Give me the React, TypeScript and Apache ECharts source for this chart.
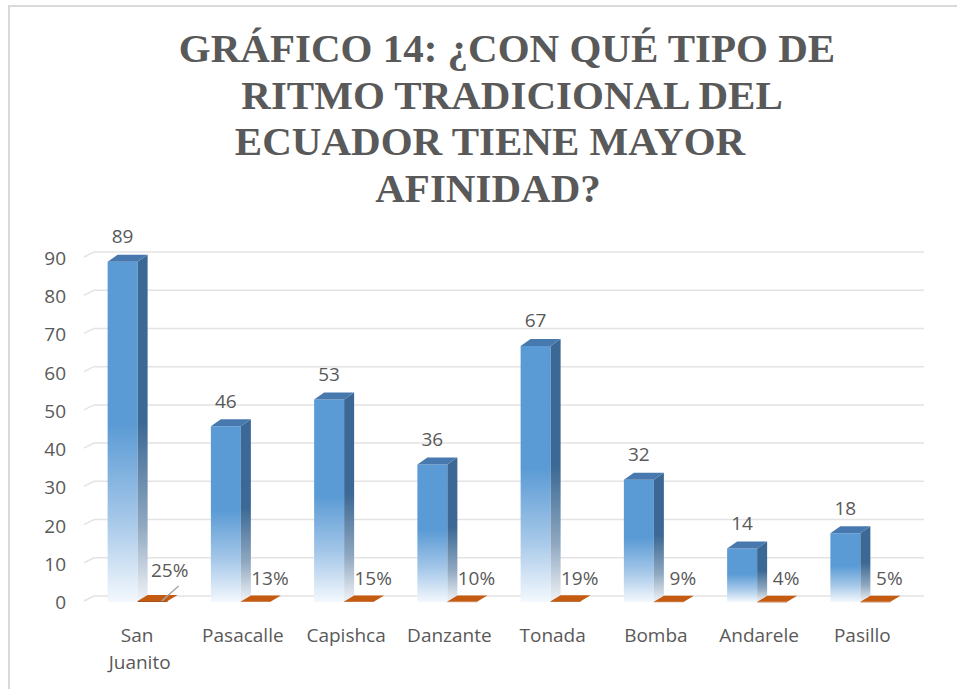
import React, { useEffect, useRef } from 'react';
import * as echarts from 'echarts';

const categories = ['San Juanito', 'Pasacalle', 'Capishca', 'Danzante', 'Tonada', 'Bomba', 'Andarele', 'Pasillo'];
const counts = [89, 46, 53, 36, 67, 32, 14, 18];
const percents = [25, 13, 15, 10, 19, 9, 4, 5];
const yTicks = [0, 10, 20, 30, 40, 50, 60, 70, 80, 90];
const titleLines = ['GRÁFICO 14: ¿CON QUÉ TIPO DE', 'RITMO TRADICIONAL DEL', 'ECUADOR TIENE MAYOR', 'AFINIDAD?'];
const liftedPercentLabels = [0];

const DX = 10;
const DY = 7;
const TEXT = '#595959';
const FONT = '19px "Open Sans", sans-serif';

export default function App() {
  const ref = useRef<HTMLDivElement>(null);
  useEffect(() => {
    const chart = echarts.init(ref.current!, null, { renderer: 'svg' });

    const frontGrad = {
      type: 'linear', x: 0, y: 0, x2: 0, y2: 1,
      colorStops: [
        { offset: 0, color: '#5B9BD5' },
        { offset: 0.48, color: '#5B9BD5' },
        { offset: 0.75, color: '#A3C6E8' },
        { offset: 1, color: '#F3F8FD' },
      ],
    };
    const sideGrad = {
      type: 'linear', x: 0, y: 0, x2: 0, y2: 1,
      colorStops: [
        { offset: 0, color: '#3B6894' },
        { offset: 0.48, color: '#3B6894' },
        { offset: 0.78, color: '#8FA8C0' },
        { offset: 1, color: '#F2F4F7' },
      ],
    };

    const titleX = [507, 512, 490, 488];
    const titleY = [48, 95, 141, 188];
    const titleGraphics = titleLines.map((t, k) => ({
      type: 'text',
      x: titleX[k],
      y: titleY[k],
      style: {
        text: t,
        fill: TEXT,
        fontFamily: '"Liberation Serif", serif',
        fontWeight: 'bold',
        fontSize: 41,
        align: 'center',
        verticalAlign: 'middle',
      },
    }));

    const option = {
      animation: false,
      backgroundColor: '#ffffff',
      grid: { left: 88, right: 43, top: 258, bottom: 87 },
      xAxis: {
        type: 'category',
        data: categories,
        axisLine: { show: false },
        axisTick: { show: false },
        axisLabel: {
          interval: 0,
          margin: 19,
          color: TEXT,
          fontSize: 19,
          fontFamily: '"Open Sans", sans-serif',
          lineHeight: 27,
          width: 90,
          overflow: 'break',
        },
      },
      yAxis: {
        type: 'value',
        min: 0,
        max: 90,
        interval: 10,
        axisLine: { show: false },
        axisTick: { show: false },
        splitLine: { show: false },
        axisLabel: { margin: 22, color: TEXT, fontSize: 19, fontFamily: '"Open Sans", sans-serif' },
      },
      graphic: [
        { type: 'rect', shape: { x: 8, y: 5, width: 949, height: 2 }, style: { fill: '#D9D9D9' } },
        { type: 'rect', shape: { x: 8, y: 5, width: 2, height: 684 }, style: { fill: '#D9D9D9' } },
        ...titleGraphics,
      ],
      series: [
        {
          type: 'custom',
          name: 'grid',
          silent: true,
          clip: false,
          z: 1,
          data: yTicks.map((v) => [0, v]),
          renderItem: (params: any, api: any) => {
            const cs = params.coordSys;
            const y = api.coord([0, api.value(1)])[1];
            return {
              type: 'polyline',
              shape: {
                points: [
                  [cs.x - 4, y - 1],
                  [cs.x + DX - 4, y - DY + 1],
                  [cs.x + cs.width + DX, y - DY + 1],
                ],
              },
              style: { stroke: '#E4E4E4', lineWidth: 1.5, fill: 'none' },
            };
          },
        },
        {
          type: 'custom',
          name: 'Cantidad',
          clip: false,
          z: 2,
          data: counts.map((v, i) => [i, v]),
          renderItem: (params: any, api: any) => {
            const i = api.value(0);
            const v = api.value(1);
            const [c, y] = api.coord([i, v]);
            const base = api.coord([i, 0])[1];
            const l = c - 32;
            const r = c - 2;
            return {
              type: 'group',
              children: [
                { type: 'rect', shape: { x: l, y, width: r - l, height: base - y }, style: { fill: frontGrad } },
                {
                  type: 'polygon',
                  shape: { points: [[r, y], [r + DX, y - DY], [r + DX, base - DY], [r, base]] },
                  style: { fill: sideGrad },
                },
                {
                  type: 'polygon',
                  shape: { points: [[l, y], [l + DX, y - DY], [r + DX, y - DY], [r, y]] },
                  style: { fill: '#4879AE' },
                },
                {
                  type: 'text',
                  style: {
                    text: String(v),
                    x: (l + r) / 2,
                    y: y - DY - 9,
                    align: 'center',
                    verticalAlign: 'bottom',
                    font: FONT,
                    fill: TEXT,
                  },
                },
              ],
            };
          },
        },
        {
          type: 'custom',
          name: 'Porcentaje',
          clip: false,
          z: 3,
          data: percents.map((p, i) => [i, p / 100]),
          renderItem: (params: any, api: any) => {
            const i = api.value(0);
            const v = api.value(1);
            const [c, y] = api.coord([i, v]);
            const base = api.coord([i, 0])[1];
            const l = c - 2;
            const r = c + 28;
            const lifted = liftedPercentLabels.indexOf(params.dataIndex) >= 0;
            const children: any[] = [
              { type: 'rect', shape: { x: l, y, width: r - l, height: Math.max(base - y, 0.5) }, style: { fill: '#9E4A12' } },
              {
                type: 'polygon',
                shape: { points: [[l, y], [r, y], [r + DX, y - DY + 1], [l + DX, y - DY + 1]] },
                style: { fill: '#C55A11' },
              },
              {
                type: 'text',
                style: {
                  text: percents[params.dataIndex] + '%',
                  x: lifted ? c + 30 : c + 27,
                  y: lifted ? base - 32 : base - 24,
                  align: 'center',
                  verticalAlign: 'middle',
                  font: FONT,
                  fill: TEXT,
                },
              },
            ];
            if (lifted) {
              children.push({
                type: 'line',
                shape: { x1: c + 39, y1: base - 16, x2: c + 22, y2: base - 1 },
                style: { stroke: '#A6A6A6', lineWidth: 1.5 },
              });
            }
            return { type: 'group', children };
          },
        },
      ],
    };

    chart.setOption(option as any);
    return () => chart.dispose();
  }, []);

  return (
    <div
      ref={ref}
      style={{ position: 'absolute', left: 0, top: 0, width: 957, height: 689, background: '#fff' }}
    />
  );
}
